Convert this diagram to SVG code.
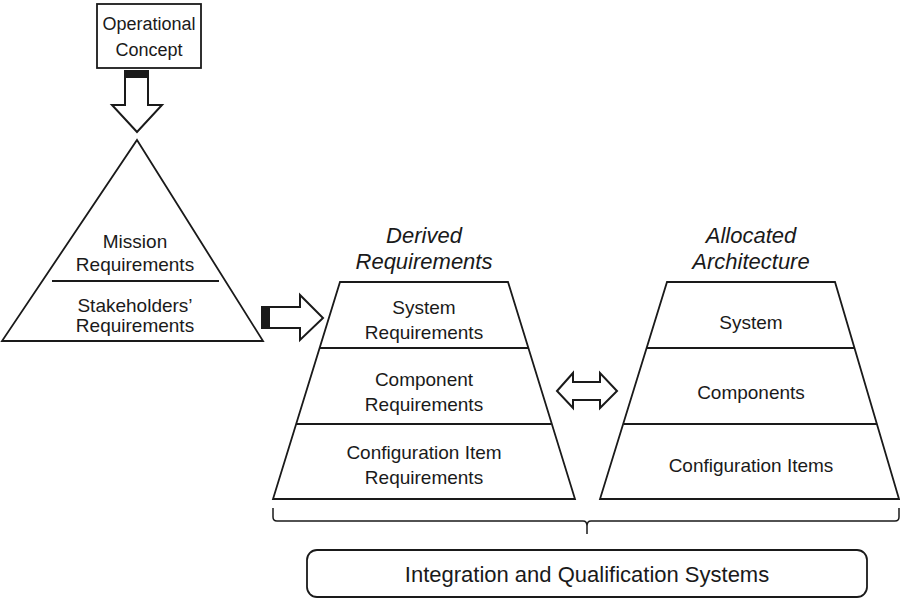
<svg xmlns="http://www.w3.org/2000/svg" width="900" height="600" viewBox="0 0 900 600">
  <style>
    .shape { fill: #fff; stroke: #1a1a1a; stroke-width: 1.8; stroke-linejoin: miter; }
    .rule { fill: none; stroke: #1a1a1a; stroke-width: 2; }
    .arrow { fill: #fff; stroke: #1a1a1a; stroke-width: 2; stroke-linejoin: miter; }
    .band { fill: #1a1a1a; stroke: none; }
    .brace { fill: none; stroke: #1a1a1a; stroke-width: 1.5; }
    text { font-family: "Liberation Sans", Arial, Helvetica, sans-serif; fill: #1a1a1a; text-anchor: middle; }
    .body { font-size: 19px; }
    .head { font-size: 22px; font-style: italic; }
    .box { font-size: 18px; }
    .wide { font-size: 22px; }
  </style>
  <rect width="900" height="600" fill="#fff"/>

  <!-- Operational concept box -->
  <g id="operational-concept">
    <rect class="shape" x="97" y="4" width="104" height="64" stroke-width="1.5"/>
    <text class="box" x="149" y="30">Operational</text>
    <text class="box" x="149" y="56">Concept</text>
  </g>

  <!-- Mission / stakeholder pyramid -->
  <g id="mission-pyramid">
    <polygon class="shape" points="137,140 263,341 2,341"/>
    <line class="rule" x1="52" y1="281" x2="219" y2="281"/>
    <text class="body" x="135" y="248">Mission</text>
    <text class="body" x="135" y="271">Requirements</text>
    <text class="body" x="135" y="312">Stakeholders’</text>
    <text class="body" x="135" y="332">Requirements</text>
  </g>

  <!-- Derived requirements trapezoid -->
  <g id="derived-requirements">
    <text class="head" x="424" y="243">Derived</text>
    <text class="head" x="424" y="269">Requirements</text>
    <polygon class="shape" points="340,282 508,282 575,499 273,499"/>
    <line class="rule" x1="319" y1="348" x2="528" y2="348"/>
    <line class="rule" x1="296" y1="424" x2="551" y2="424"/>
    <text class="body" x="424" y="314">System</text>
    <text class="body" x="424" y="339">Requirements</text>
    <text class="body" x="424" y="386">Component</text>
    <text class="body" x="424" y="411">Requirements</text>
    <text class="body" x="424" y="459">Configuration Item</text>
    <text class="body" x="424" y="484">Requirements</text>
  </g>

  <!-- Allocated architecture trapezoid -->
  <g id="allocated-architecture">
    <text class="head" x="751" y="243">Allocated</text>
    <text class="head" x="751" y="269">Architecture</text>
    <polygon class="shape" points="667,282 835,282 899,499 600,499"/>
    <line class="rule" x1="647" y1="348" x2="855" y2="348"/>
    <line class="rule" x1="624" y1="424" x2="877" y2="424"/>
    <text class="body" x="751" y="329">System</text>
    <text class="body" x="751" y="399">Components</text>
    <text class="body" x="751" y="472">Configuration Items</text>
  </g>

  <!-- Integration box -->
  <g id="integration">
    <rect class="shape" x="307" y="550" width="560" height="47" rx="10" ry="10" stroke-width="2"/>
    <text class="wide" x="587" y="582">Integration and Qualification Systems</text>
  </g>

  <!-- Connectors: block arrows and grouping brace -->
  <g id="connectors">
    <!-- concept down into mission pyramid -->
    <polygon class="arrow" points="125,71 148,71 148,105 162,105 137,132 112,105 125,105"/>
    <rect class="band" x="124" y="70" width="25" height="8"/>
    <!-- pyramid across to derived requirements -->
    <polygon class="arrow" points="262,307 300,307 300,295 323,318 300,340 300,328 262,328"/>
    <rect class="band" x="261" y="306" width="9" height="23"/>
    <!-- derived and allocated both ways -->
    <polygon class="arrow" points="557,391 573,373 573,382 600,382 600,373 617,391 600,408 600,400 573,400 573,408"/>
    <!-- brace under both trapezoids -->
    <path class="brace" d="M273,508 V517 Q273,521 277,521 H583 Q587,521 587,526 V534 M587,526 Q587,521 591,521 H895 Q899,521 899,517 V508"/>
  </g>
</svg>
